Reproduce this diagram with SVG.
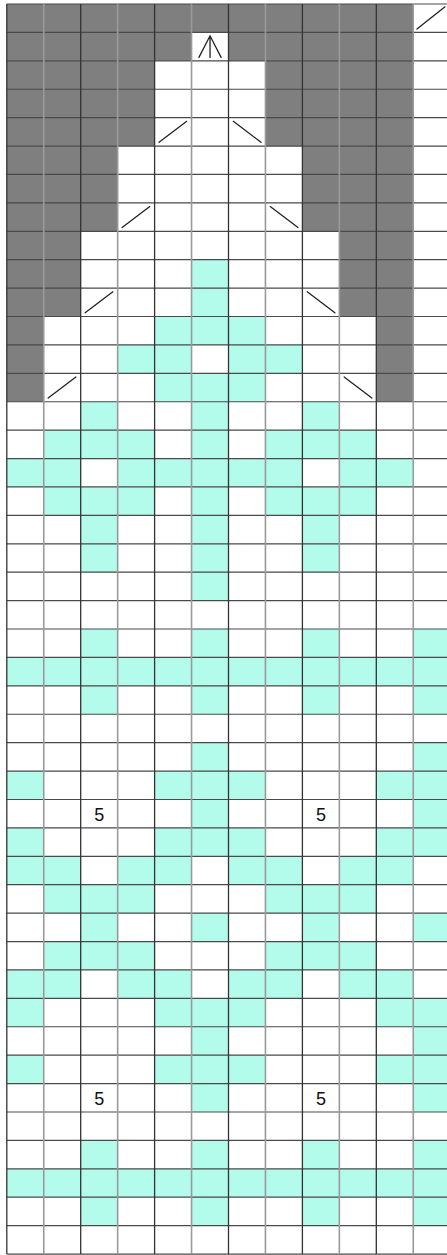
<svg xmlns="http://www.w3.org/2000/svg" width="447" height="1255" viewBox="0 0 447 1255">
<style>
.g{fill:#7f7f7f}
.t{fill:#b3fbeb}
.h{stroke:#4a4a4a;stroke-width:1.2;vector-effect:non-scaling-stroke;fill:none}
.vd{stroke:#333;stroke-width:1.3;vector-effect:non-scaling-stroke;fill:none}
.vl{stroke:#9a9a9a;stroke-width:1.6;vector-effect:non-scaling-stroke;fill:none}
.s{stroke:#222;stroke-width:1.3;vector-effect:non-scaling-stroke;fill:none;stroke-linecap:round}
.n{font-family:"Liberation Sans",Arial,sans-serif;font-size:18px;fill:#111;text-anchor:middle}
</style>
<rect x="0" y="0" width="447" height="1255" fill="#fff"/>
<g id="chart" transform="translate(6.8,4) scale(36.95,28.41)">
<g id="gray-cells">
<rect class="g" x="0" y="0" width="11" height="1"/>
<rect class="g" x="0" y="1" width="5" height="1"/>
<rect class="g" x="6" y="1" width="5" height="1"/>
<rect class="g" x="0" y="2" width="4" height="3"/>
<rect class="g" x="7" y="2" width="4" height="3"/>
<rect class="g" x="0" y="5" width="3" height="3"/>
<rect class="g" x="8" y="5" width="3" height="3"/>
<rect class="g" x="0" y="8" width="2" height="3"/>
<rect class="g" x="9" y="8" width="2" height="3"/>
<rect class="g" x="0" y="11" width="1" height="3"/>
<rect class="g" x="10" y="11" width="1" height="3"/>
</g>
<g id="teal-cells">
<rect class="t" x="5" y="9" width="1" height="2"/>
<rect class="t" x="4" y="11" width="3" height="1"/>
<rect class="t" x="3" y="12" width="2" height="1"/>
<rect class="t" x="6" y="12" width="2" height="1"/>
<rect class="t" x="4" y="13" width="3" height="1"/>
<!-- 14 -->
<rect class="t" x="2" y="14" width="1" height="1"/>
<rect class="t" x="5" y="14" width="1" height="1"/>
<rect class="t" x="8" y="14" width="1" height="1"/>
<!-- 15 -->
<rect class="t" x="1" y="15" width="3" height="1"/>
<rect class="t" x="5" y="15" width="1" height="1"/>
<rect class="t" x="7" y="15" width="3" height="1"/>
<!-- 16 -->
<rect class="t" x="0" y="16" width="2" height="1"/>
<rect class="t" x="3" y="16" width="5" height="1"/>
<rect class="t" x="9" y="16" width="2" height="1"/>
<!-- 17 -->
<rect class="t" x="1" y="17" width="3" height="1"/>
<rect class="t" x="5" y="17" width="1" height="1"/>
<rect class="t" x="7" y="17" width="3" height="1"/>
<!-- 18-19 -->
<rect class="t" x="2" y="18" width="1" height="2"/>
<rect class="t" x="5" y="18" width="1" height="3"/>
<rect class="t" x="8" y="18" width="1" height="2"/>
<!-- 22-24 -->
<rect class="t" x="2" y="22" width="1" height="3"/>
<rect class="t" x="5" y="22" width="1" height="3"/>
<rect class="t" x="8" y="22" width="1" height="3"/>
<rect class="t" x="11" y="22" width="1" height="3"/>
<rect class="t" x="0" y="23" width="12" height="1"/>
<!-- 26-29 -->
<rect class="t" x="5" y="26" width="1" height="4"/>
<rect class="t" x="11" y="26" width="1" height="4"/>
<rect class="t" x="0" y="27" width="1" height="1"/>
<rect class="t" x="4" y="27" width="3" height="1"/>
<rect class="t" x="10" y="27" width="1" height="1"/>
<rect class="t" x="0" y="29" width="1" height="1"/>
<rect class="t" x="4" y="29" width="3" height="1"/>
<rect class="t" x="10" y="29" width="1" height="1"/>
<!-- 30 -->
<rect class="t" x="0" y="30" width="2" height="1"/>
<rect class="t" x="3" y="30" width="2" height="1"/>
<rect class="t" x="6" y="30" width="2" height="1"/>
<rect class="t" x="9" y="30" width="2" height="1"/>
<!-- 31 -->
<rect class="t" x="1" y="31" width="3" height="1"/>
<rect class="t" x="7" y="31" width="3" height="1"/>
<!-- 32 -->
<rect class="t" x="2" y="32" width="1" height="1"/>
<rect class="t" x="5" y="32" width="1" height="1"/>
<rect class="t" x="8" y="32" width="1" height="1"/>
<rect class="t" x="11" y="32" width="1" height="1"/>
<!-- 33 -->
<rect class="t" x="1" y="33" width="3" height="1"/>
<rect class="t" x="7" y="33" width="3" height="1"/>
<!-- 34 -->
<rect class="t" x="0" y="34" width="2" height="1"/>
<rect class="t" x="3" y="34" width="2" height="1"/>
<rect class="t" x="6" y="34" width="2" height="1"/>
<rect class="t" x="9" y="34" width="2" height="1"/>
<!-- 35-38 -->
<rect class="t" x="5" y="35" width="1" height="4"/>
<rect class="t" x="11" y="35" width="1" height="4"/>
<rect class="t" x="0" y="35" width="1" height="1"/>
<rect class="t" x="4" y="35" width="1" height="1"/>
<rect class="t" x="6" y="35" width="1" height="1"/>
<rect class="t" x="10" y="35" width="1" height="1"/>
<rect class="t" x="0" y="37" width="1" height="1"/>
<rect class="t" x="4" y="37" width="1" height="1"/>
<rect class="t" x="6" y="37" width="1" height="1"/>
<rect class="t" x="10" y="37" width="1" height="1"/>
<!-- 40-42 -->
<rect class="t" x="2" y="40" width="1" height="3"/>
<rect class="t" x="5" y="40" width="1" height="3"/>
<rect class="t" x="8" y="40" width="1" height="3"/>
<rect class="t" x="11" y="40" width="1" height="3"/>
<rect class="t" x="0" y="41" width="12" height="1"/>
</g>
<g id="grid-lines">
<path class="h" d="M0 0H12.2M0 1H12.2M0 2H12.2M0 3H12.2M0 4H12.2M0 5H12.2M0 6H12.2M0 7H12.2M0 8H12.2M0 9H12.2M0 10H12.2M0 11H12.2M0 12H12.2M0 13H12.2M0 14H12.2M0 15H12.2M0 16H12.2M0 17H12.2M0 18H12.2M0 19H12.2M0 20H12.2M0 21H12.2M0 22H12.2M0 23H12.2M0 24H12.2M0 25H12.2M0 26H12.2M0 27H12.2M0 28H12.2M0 29H12.2M0 30H12.2M0 31H12.2M0 32H12.2M0 33H12.2M0 34H12.2M0 35H12.2M0 36H12.2M0 37H12.2M0 38H12.2M0 39H12.2M0 40H12.2M0 41H12.2M0 42H12.2M0 43H12.2M0 44H12.2"/>
<path class="vl" d="M1 0V44M3 0V44M5 0V44M7 0V44M9 0V44M11 0V44"/>
<path class="vd" d="M0 0V44M2 0V44M4 0V44M6 0V44M8 0V44M10 0V44"/>
</g>
<g id="symbols">
<path class="s" d="M11.1 0.88L11.86 0.1"/>
<path class="s" d="M5.2 1.88L5.5 1.12L5.8 1.88M5.5 1.12V1.88"/>
<path class="s" d="M4.12 4.87L4.87 4.13"/>
<path class="s" d="M6.13 4.13L6.88 4.87"/>
<path class="s" d="M3.12 7.87L3.87 7.13"/>
<path class="s" d="M7.13 7.13L7.88 7.87"/>
<path class="s" d="M2.12 10.87L2.87 10.13"/>
<path class="s" d="M8.13 10.13L8.88 10.87"/>
<path class="s" d="M1.12 13.87L1.87 13.13"/>
<path class="s" d="M9.13 13.13L9.88 13.87"/>
</g>
</g>
<g id="labels">
<text class="n" x="99.2" y="821">5</text>
<text class="n" x="320.9" y="821">5</text>
<text class="n" x="99.2" y="1105">5</text>
<text class="n" x="320.9" y="1105">5</text>
</g>
</svg>
